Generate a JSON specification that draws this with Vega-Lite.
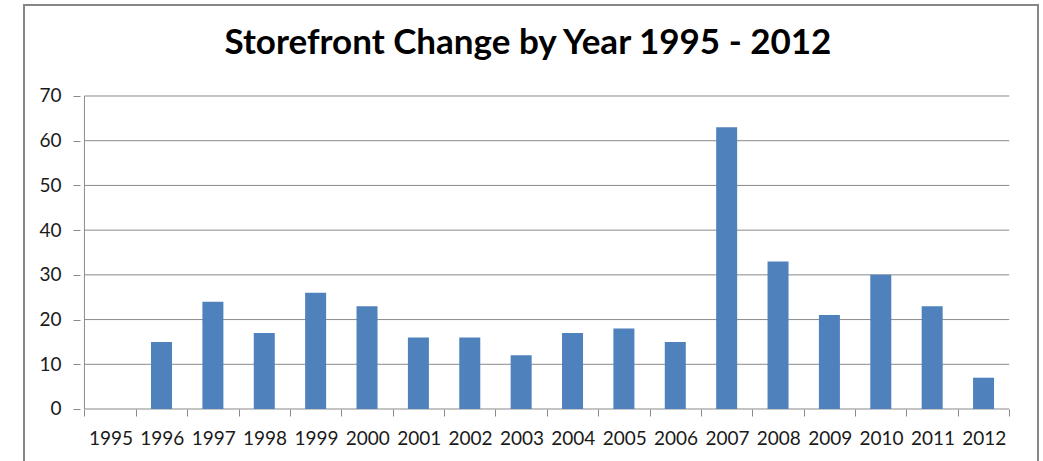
{
  "$schema": "https://vega.github.io/schema/vega-lite/v6.json",
  "width": 1014,
  "height": 458,
  "autosize": {"type": "none"},
  "padding": {"left": 24, "top": 5, "right": 5, "bottom": -2},
  "background": "white",
  "title": {
    "text": "Storefront Change by Year 1995 - 2012",
    "font": "Lato",
    "fontSize": 35,
    "fontWeight": "bold",
    "color": "#000000",
    "anchor": "middle",
    "baseline": "alphabetic",
    "offset": -84,
    "dx": -3
  },
  "config": {
    "view": {"stroke": "#878787", "strokeWidth": 2},
    "axis": {
      "labelFont": "Lato",
      "labelFontSize": 19,
      "labelColor": "#1a1a1a",
      "tickColor": "#8a8a8a",
      "tickWidth": 1,
      "domain": false,
      "grid": false,
      "title": null,
      "labelFlush": false,
      "labelOverlap": false,
      "labelBound": false
    }
  },
  "datasets": {
    "counts": [
      {"year": 1995, "count": 0},
      {"year": 1996, "count": 15},
      {"year": 1997, "count": 24},
      {"year": 1998, "count": 17},
      {"year": 1999, "count": 26},
      {"year": 2000, "count": 23},
      {"year": 2001, "count": 16},
      {"year": 2002, "count": 16},
      {"year": 2003, "count": 12},
      {"year": 2004, "count": 17},
      {"year": 2005, "count": 18},
      {"year": 2006, "count": 15},
      {"year": 2007, "count": 63},
      {"year": 2008, "count": 33},
      {"year": 2009, "count": 21},
      {"year": 2010, "count": 30},
      {"year": 2011, "count": 23},
      {"year": 2012, "count": 7}
    ],
    "gridlines": [
      {"v": 0}, {"v": 10}, {"v": 20}, {"v": 30}, {"v": 40}, {"v": 50}, {"v": 60}, {"v": 70}
    ]
  },
  "layer": [
    {
      "data": {"name": "gridlines"},
      "mark": {"type": "rule", "color": "#8a8a8a", "strokeWidth": 1},
      "encoding": {
        "y": {"field": "v", "type": "quantitative"},
        "x": {"datum": 1994.5, "type": "quantitative"},
        "x2": {"datum": 2012.5}
      }
    },
    {
      "data": {"values": [{}]},
      "mark": {"type": "rule", "color": "#8a8a8a", "strokeWidth": 1},
      "encoding": {
        "x": {"datum": 1994.5, "type": "quantitative"},
        "y": {"datum": 0, "type": "quantitative"},
        "y2": {"datum": 70}
      }
    },
    {
      "data": {"name": "counts"},
      "mark": {"type": "bar", "width": 21, "color": "#4f81bd"},
      "encoding": {
        "x": {
          "field": "year",
          "type": "quantitative",
          "scale": {"domain": [1993.4208, 2012.9625], "nice": false, "zero": false},
          "axis": {
            "orient": "bottom",
            "offset": -54,
            "values": [1994.5, 1995.5, 1996.5, 1997.5, 1998.5, 1999.5, 2000.5, 2001.5, 2002.5, 2003.5, 2004.5, 2005.5, 2006.5, 2007.5, 2008.5, 2009.5, 2010.5, 2011.5, 2012.5],
            "labelExpr": "datum.value > 2012 ? '' : format(datum.value + 0.5, 'd')",
            "labelOffset": 26,
            "tickSize": 7,
            "labelPadding": 13
          }
        },
        "y": {
          "field": "count",
          "type": "quantitative",
          "scale": {"domain": [-12.077, 90.351], "nice": false, "zero": false},
          "axis": {
            "orient": "left",
            "offset": -56,
            "values": [0, 10, 20, 30, 40, 50, 60, 70],
            "tickSize": 7,
            "labelPadding": 12
          }
        },
        "y2": {"datum": 0}
      }
    }
  ]
}
